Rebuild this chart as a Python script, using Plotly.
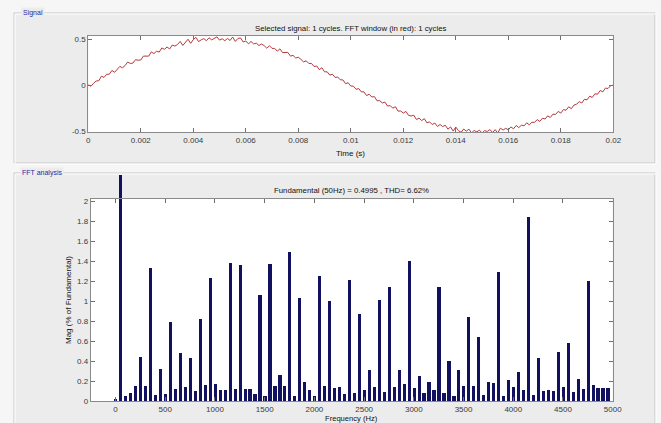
import plotly.graph_objects as go

# ---------------- data ----------------
# Sampled signal, one 50 Hz cycle, 0.1 ms sample period
sample_period = 0.0001
signal = [
    0.005, -0.012, 0.021, 0.045, 0.048, 0.098, 0.084, 0.119, 0.119, 0.160,
    0.140, 0.174, 0.204, 0.189, 0.213, 0.252, 0.236, 0.240, 0.278, 0.271,
    0.274, 0.316, 0.314, 0.316, 0.362, 0.344, 0.369, 0.360, 0.405, 0.390,
    0.415, 0.394, 0.437, 0.425, 0.443, 0.476, 0.432, 0.469, 0.500, 0.455,
    0.496, 0.520, 0.474, 0.493, 0.506, 0.484, 0.516, 0.493, 0.509, 0.525,
    0.490, 0.505, 0.484, 0.508, 0.486, 0.524, 0.476, 0.508, 0.514, 0.470,
    0.481, 0.450, 0.475, 0.449, 0.457, 0.431, 0.448, 0.430, 0.402, 0.429,
    0.400, 0.400, 0.370, 0.395, 0.354, 0.354, 0.357, 0.316, 0.324, 0.296,
    0.304, 0.281, 0.253, 0.265, 0.236, 0.237, 0.203, 0.209, 0.169, 0.189,
    0.145, 0.145, 0.109, 0.119, 0.084, 0.088, 0.058, 0.057, 0.016, 0.026,
    -0.010, -0.011, -0.046, -0.037, -0.073, -0.073, -0.114, -0.099, -0.129, -0.125,
    -0.170, -0.169, -0.194, -0.184, -0.228, -0.222, -0.251, -0.235, -0.283, -0.281,
    -0.304, -0.286, -0.329, -0.336, -0.327, -0.374, -0.359, -0.385, -0.365, -0.410,
    -0.400, -0.429, -0.412, -0.450, -0.428, -0.451, -0.437, -0.479, -0.455, -0.500,
    -0.456, -0.495, -0.514, -0.478, -0.501, -0.479, -0.521, -0.493, -0.509, -0.490,
    -0.520, -0.495, -0.504, -0.483, -0.516, -0.484, -0.521, -0.468, -0.489, -0.470,
    -0.486, -0.455, -0.475, -0.439, -0.462, -0.436, -0.443, -0.410, -0.432, -0.404,
    -0.405, -0.375, -0.395, -0.360, -0.369, -0.334, -0.352, -0.316, -0.319, -0.286,
    -0.304, -0.266, -0.273, -0.235, -0.256, -0.217, -0.208, -0.179, -0.194, -0.154,
    -0.160, -0.120, -0.134, -0.094, -0.099, -0.058, -0.073, -0.032, -0.036, -0.006,
    0.000,
]
time_s = [k * sample_period for k in range(len(signal))]

# Harmonic spectrum, 0 .. 4950 Hz in 50 Hz steps, % of fundamental
freq_step = 50
mag_pct = [
    0.02, 100.0, 0.05, 0.08, 0.15, 0.44, 0.15, 1.33, 0.06, 0.32,
    0.07, 0.79, 0.12, 0.48, 0.14, 0.43, 0.10, 0.82, 0.16, 1.23,
    0.17, 0.11, 0.11, 1.38, 0.12, 1.36, 0.12, 0.12, 0.07, 1.06,
    0.05, 1.37, 0.15, 0.26, 0.15, 1.49, 0.05, 1.03, 0.19, 0.11,
    0.05, 1.25, 0.15, 1.00, 0.13, 0.14, 0.07, 1.21, 0.08, 0.87,
    0.11, 0.31, 0.14, 1.01, 0.09, 1.14, 0.14, 0.31, 0.17, 1.40,
    0.13, 0.25, 0.08, 0.19, 0.11, 1.14, 0.08, 0.40, 0.05, 0.31,
    0.15, 0.84, 0.15, 0.64, 0.06, 0.19, 0.18, 1.29, 0.05, 0.21,
    0.14, 0.29, 0.11, 1.84, 0.06, 0.43, 0.10, 0.11, 0.10, 0.49,
    0.14, 0.58, 0.09, 0.22, 0.12, 1.20, 0.16, 0.13, 0.13, 0.13,
]
freqs = [k * freq_step for k in range(len(mag_pct))]

time_ticks = [0, 0.002, 0.004, 0.006, 0.008, 0.01, 0.012, 0.014, 0.016, 0.018, 0.02]
time_tick_text = ["0", "0.002", "0.004", "0.006", "0.008", "0.01", "0.012",
                  "0.014", "0.016", "0.018", "0.02"]
sig_ticks = [-0.5, 0, 0.5]
sig_tick_text = ["-0.5", "0", "0.5"]
freq_ticks = [0, 500, 1000, 1500, 2000, 2500, 3000, 3500, 4000, 4500, 5000]
freq_tick_text = [str(v) for v in freq_ticks]
mag_ticks = [0, 0.2, 0.4, 0.6, 0.8, 1, 1.2, 1.4, 1.6, 1.8, 2]
mag_tick_text = ["0", "0.2", "0.4", "0.6", "0.8", "1", "1.2", "1.4", "1.6", "1.8", "2"]

signal_title = "Selected signal: 1 cycles. FFT window (in red): 1 cycles"
fft_title = "Fundamental (50Hz) = 0.4995 , THD= 6.62%"

# ---------------- geometry (pixels of a 661 x 423 page) ----------------
W, H = 661, 423


def px(x):
    return x / W


def py(y):
    return 1 - y / H


sig_box = dict(l=88.3, r=613.3, t=36, b=132)
fft_box = dict(l=90.7, r=612.7, t=199, b=401)
fft_ymax = 2.02           # top of the framed FFT axes
fft_bar_ymax = 2.26       # bars may rise above the frame up to here
bar_top_px = fft_box["b"] - (fft_box["b"] - fft_box["t"]) * fft_bar_ymax / fft_ymax

FONT = "Liberation Sans, Arial, sans-serif"
PANEL = "#ececec"
OUTER = "#f6f6f6"
AX_LINE = "#8a8a8a"
TICK_FONT = dict(family=FONT, size=8, color="#3a3a3a")

fig = go.Figure()

fig.add_trace(go.Scatter(
    x=time_s, y=signal, mode="lines",
    line=dict(color="#b3393c", width=1),
    xaxis="x", yaxis="y", hoverinfo="skip", showlegend=False,
))
fig.add_trace(go.Bar(
    x=freqs, y=mag_pct, width=32,
    marker=dict(color="#111160", line=dict(width=0)),
    xaxis="x2", yaxis="y2", hoverinfo="skip", showlegend=False,
))
# empty trace so the framed FFT axes get drawn
fig.add_trace(go.Scatter(x=[None], y=[None], xaxis="x3", yaxis="y3",
                         showlegend=False, hoverinfo="skip"))

frame_axis = dict(
    showline=True, linecolor=AX_LINE, linewidth=1, mirror="ticks",
    ticks="inside", ticklen=4, tickcolor="#707070", tickwidth=1,
    showgrid=False, zeroline=False, tickfont=TICK_FONT, fixedrange=True,
    automargin=False,
)

fig.update_layout(
    width=W, height=H, autosize=False,
    margin=dict(l=0, r=0, t=0, b=0, pad=0, autoexpand=False),
    paper_bgcolor=OUTER,
    plot_bgcolor="rgba(0,0,0,0)",
    showlegend=False,
    bargap=0,
    xaxis=dict(frame_axis, domain=[px(sig_box["l"]), px(sig_box["r"])],
               range=[0, 0.02], tickvals=time_ticks, ticktext=time_tick_text,
               anchor="y"),
    yaxis=dict(frame_axis, domain=[py(sig_box["b"]), py(sig_box["t"])],
               range=[-0.51, 0.535], tickvals=sig_ticks, ticktext=sig_tick_text,
               anchor="x"),
    xaxis2=dict(domain=[px(fft_box["l"]), px(fft_box["r"])], range=[-250, 5000],
                visible=False, anchor="y2", fixedrange=True, automargin=False),
    yaxis2=dict(domain=[py(fft_box["b"]), py(bar_top_px)], range=[0, fft_bar_ymax],
                visible=False, anchor="x2", fixedrange=True, automargin=False),
    xaxis3=dict(frame_axis, domain=[px(fft_box["l"]), px(fft_box["r"])],
                range=[-250, 5000], tickvals=freq_ticks, ticktext=freq_tick_text,
                anchor="y3"),
    yaxis3=dict(frame_axis, domain=[py(fft_box["b"]), py(fft_box["t"])],
                range=[0, fft_ymax], tickvals=mag_ticks, ticktext=mag_tick_text,
                anchor="x3"),
)

shapes = []
# etched group-box panels
for (l, t, r, b) in [(14, 13, 655, 163), (14, 173, 655, 440)]:
    shapes.append(dict(type="rect", xref="paper", yref="paper",
                       x0=px(l), x1=px(r), y0=py(b), y1=py(t),
                       fillcolor=PANEL, line=dict(color="#c6c6c6", width=1),
                       layer="below"))
    shapes.append(dict(type="rect", xref="paper", yref="paper",
                       x0=px(l + 1), x1=px(r + 1), y0=py(b + 1), y1=py(t + 1),
                       fillcolor="rgba(0,0,0,0)", line=dict(color="#ffffff", width=1),
                       layer="below"))
# white axes backgrounds
for box in (sig_box, fft_box):
    shapes.append(dict(type="rect", xref="paper", yref="paper",
                       x0=px(box["l"]), x1=px(box["r"]),
                       y0=py(box["b"]), y1=py(box["t"]),
                       fillcolor="#ffffff", line=dict(width=0), layer="below"))
fig.update_layout(shapes=shapes)

ann = []
# group-box captions
for text, x, y in [("Signal", 21, 13), ("FFT analysis", 20, 173)]:
    ann.append(dict(text=text, xref="paper", yref="paper", x=px(x), y=py(y),
                    xanchor="left", yanchor="middle", showarrow=False,
                    font=dict(family=FONT, size=7, color="#2b2ba0"),
                    bgcolor=PANEL, borderpad=1))
# axes titles
ann.append(dict(text=signal_title, xref="paper", yref="paper",
                x=px((sig_box["l"] + sig_box["r"]) / 2), y=py(29),
                xanchor="center", yanchor="middle", showarrow=False,
                font=dict(family=FONT, size=7.8, color="#111111")))
ann.append(dict(text=fft_title, xref="paper", yref="paper",
                x=px((fft_box["l"] + fft_box["r"]) / 2), y=py(190),
                xanchor="center", yanchor="middle", showarrow=False,
                font=dict(family=FONT, size=7.8, color="#111111")))
ann.append(dict(text="Time (s)", xref="paper", yref="paper",
                x=px((sig_box["l"] + sig_box["r"]) / 2), y=py(153),
                xanchor="center", yanchor="middle", showarrow=False,
                font=dict(family=FONT, size=8, color="#111111")))
ann.append(dict(text="Frequency (Hz)", xref="paper", yref="paper",
                x=px((fft_box["l"] + fft_box["r"]) / 2), y=py(418),
                xanchor="center", yanchor="middle", showarrow=False,
                font=dict(family=FONT, size=7.6, color="#111111")))
ann.append(dict(text="Mag (% of Fundamental)", xref="paper", yref="paper",
                x=px(68), y=py((fft_box["t"] + fft_box["b"]) / 2),
                xanchor="center", yanchor="middle", showarrow=False, textangle=-90,
                font=dict(family=FONT, size=8, color="#111111")))
fig.update_layout(annotations=ann)

fig.write_html("out.html")
